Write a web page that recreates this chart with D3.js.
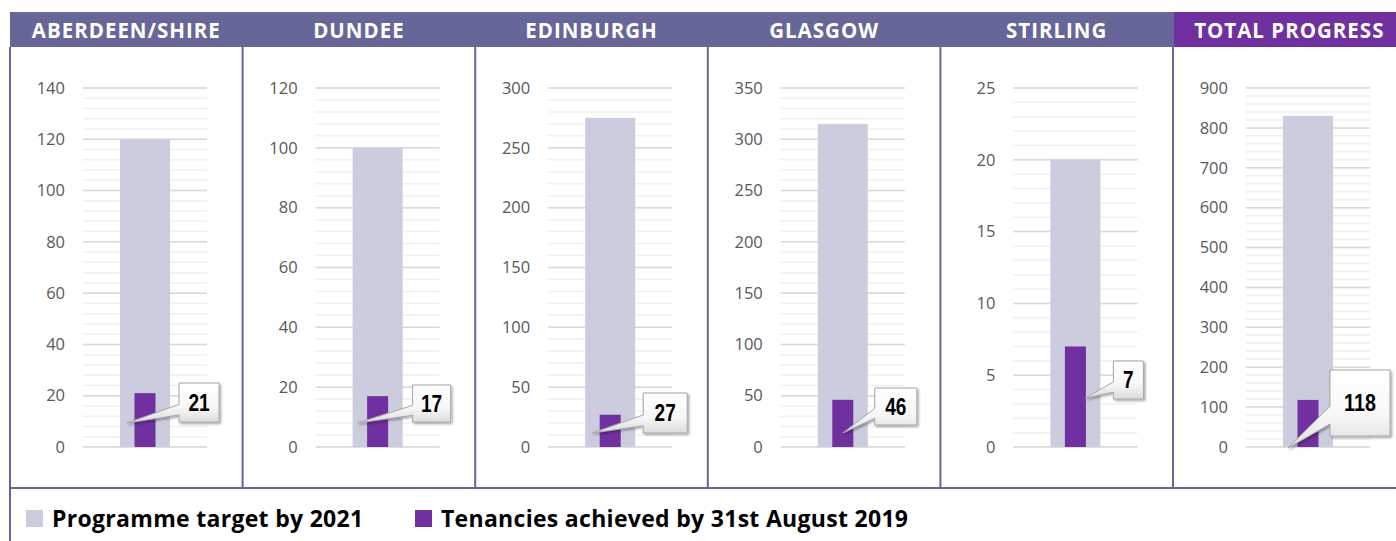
<!DOCTYPE html>
<html>
<head>
<meta charset="utf-8">
<script src="https://cdnjs.cloudflare.com/ajax/libs/d3/7.8.5/d3.min.js"></script>
<style>
  body { margin: 0; background: #fff; }
  svg { display: block; }
</style>
</head>
<body>
<div id="vis-container"></div>
<script>
const width = 1396,
      height = 541,
      margin = {
          top: 88,      // y of the axis max
          bottom: 94,   // 541 - 447, y of the zero line
          left: 10,
          right: 0,
      };

// ******* Data *******
var regions = ["ABERDEEN/SHIRE", "DUNDEE", "EDINBURGH", "GLASGOW", "STIRLING", "TOTAL PROGRESS"];
var targets = [120, 100, 275, 315, 20, 830];      // Programme target by 2021
var achieved = [21, 17, 27, 46, 7, 118];          // Tenancies achieved by 31st August 2019
var axisMax = [140, 120, 300, 350, 25, 900];
var axisStep = [20, 20, 50, 50, 5, 100];
var legendLabels = ["Programme target by 2021", "Tenancies achieved by 31st August 2019"];

// callout placement (offsets from bar centre, boxes drawn like the excel ones)
var calloutLayout = [
    {dx: 34, top: 383, w: 40, h: 39, tipDx: -18, tipY: 423},
    {dx: 35, top: 385, w: 38, h: 37, tipDx: -20, tipY: 423},
    {dx: 33, top: 393, w: 44, h: 40, tipDx: -18, tipY: 433},
    {dx: 32, top: 388, w: 42, h: 37, tipDx: 0,   tipY: 433},
    {dx: 38, top: 361, w: 30, h: 38, tipDx: 10,  tipY: 398},
    {dx: 22, top: 370, w: 60, h: 66, tipDx: -20, tipY: 448}
];

const frameColor = "#666699",
      totalColor = "#7030a0",
      targetColor = "#ccccdf",
      achievedColor = "#7030a0";
const panelW = 232.6;
const headerTop = 12, headerBottom = 47, frameBottom = 488;
const uiFont = "'Open Sans', Lato, sans-serif";

var svg = d3.select("#vis-container").append("svg")
    .attr("width", width)
    .attr("height", height)
    .style("font-family", uiFont);

var defs = svg.append("defs");
var grad = defs.append("linearGradient").attr("id", "callGrad")
    .attr("x1", 0).attr("y1", 0).attr("x2", 0).attr("y2", 1);
grad.append("stop").attr("offset", "0%").attr("stop-color", "#ffffff");
grad.append("stop").attr("offset", "60%").attr("stop-color", "#f7f7f7");
grad.append("stop").attr("offset", "100%").attr("stop-color", "#dcdcdc");
var shadow = defs.append("filter").attr("id", "shadow")
    .attr("x", "-20%").attr("y", "-20%").attr("width", "150%").attr("height", "150%");
shadow.append("feDropShadow").attr("dx", 1.5).attr("dy", 1.5).attr("stdDeviation", 1)
    .attr("flood-color", "#000").attr("flood-opacity", 0.35);

// ******* Scales *******
var panelX = d3.scaleBand().domain(regions)
    .range([margin.left, margin.left + panelW * regions.length]).padding(0);

// one category per panel, inner plot area is panel+73 .. panel+197
var barX = d3.scaleBand().domain(["bar"]).range([73, 197]).padding(0.425);

function yScaleFor(i) {
    return d3.scaleLinear().domain([0, axisMax[i]]).range([height - margin.bottom, margin.top]);
}

// ******* Header band *******
svg.append("rect")
    .attr("x", margin.left).attr("y", headerTop)
    .attr("width", width - margin.left).attr("height", headerBottom - headerTop)
    .attr("fill", frameColor);
svg.append("rect")
    .attr("x", panelX("TOTAL PROGRESS") + 1).attr("y", headerTop)
    .attr("width", width - panelX("TOTAL PROGRESS")).attr("height", headerBottom - headerTop)
    .attr("fill", totalColor);

svg.selectAll("text.header")
    .data(regions)
    .enter()
    .append("text")
    .attr("class", "header")
    .attr("x", function(d) {return panelX(d) + panelW / 2;})
    .attr("y", 37.5)
    .attr("text-anchor", "middle")
    .attr("fill", "#fff")
    .attr("font-weight", "bold")
    .attr("font-size", 20.5)
    .attr("letter-spacing", 1)
    .text(function(d) {return d;});

// ******* Panels *******
regions.forEach(function(region, i) {
    var y = yScaleFor(i);
    var g = svg.append("g").attr("transform", `translate(${panelX(region)} 0)`);

    // minor gridlines (5 per major step)
    var minor = d3.range(0, axisMax[i] + 1e-9, axisStep[i] / 5);
    g.selectAll("line.minor")
        .data(minor)
        .enter()
        .append("line")
        .attr("x1", barX.range()[0]).attr("x2", barX.range()[1])
        .attr("y1", function(d) {return y(d);})
        .attr("y2", function(d) {return y(d);})
        .attr("stroke", "#f0f0f0")
        .attr("stroke-width", 1.5);

    var major = d3.range(0, axisMax[i] + 1e-9, axisStep[i]);
    g.selectAll("line.major")
        .data(major)
        .enter()
        .append("line")
        .attr("x1", barX.range()[0]).attr("x2", barX.range()[1])
        .attr("y1", function(d) {return y(d);})
        .attr("y2", function(d) {return y(d);})
        .attr("stroke", "#d9d9d9")
        .attr("stroke-width", 1.5);

    // y axis labels
    var axis = g.append("g")
        .attr("transform", "translate(55 0)")
        .call(d3.axisLeft(y).tickValues(major).tickSize(0).tickPadding(0));
    axis.select(".domain").remove();
    axis.selectAll("text")
        .attr("fill", "#595959")
        .attr("font-size", 16.5)
        .attr("font-family", uiFont);

    // bars
    var bx = barX("bar"), bw = barX.bandwidth();
    var cx = bx + bw / 2;
    g.append("rect")
        .attr("x", bx).attr("width", bw)
        .attr("y", y(targets[i])).attr("height", y(0) - y(targets[i]))
        .attr("fill", targetColor);
    var aw = bw * 0.42;
    g.append("rect")
        .attr("x", cx - aw / 2).attr("width", aw)
        .attr("y", y(achieved[i])).attr("height", y(0) - y(achieved[i]))
        .attr("fill", achievedColor);

    // callout
    var c = calloutLayout[i];
    var L = cx + c.dx, R = L + c.w, T = c.top, B = c.top + c.h;
    var tipX = cx + c.tipDx;
    var p = d3.path();
    p.moveTo(L, T);
    p.lineTo(R, T);
    p.lineTo(R, B);
    p.lineTo(L, B);
    p.lineTo(L, T + c.h * 0.82);
    p.lineTo(tipX, c.tipY);
    p.lineTo(L, T + c.h * 0.55);
    p.closePath();
    g.append("path")
        .attr("d", p.toString())
        .attr("fill", "url(#callGrad)")
        .attr("stroke", "#a6a6a6")
        .attr("stroke-width", 1)
        .attr("filter", "url(#shadow)");
    var label = String(achieved[i]);
    g.append("text")
        .attr("x", L + c.w / 2)
        .attr("y", T + c.h / 2 + 8)
        .attr("text-anchor", "middle")
        .attr("font-family", "'Liberation Sans Narrow', 'Arial Narrow', 'Liberation Sans', Arial, sans-serif")
        .attr("font-weight", "bold")
        .attr("font-size", 23)
        .attr("textLength", label.length * 10.6)
        .attr("lengthAdjust", "spacingAndGlyphs")
        .attr("fill", "#000")
        .text(label);
});

// ******* Frame *******
svg.selectAll("line.divider")
    .data(regions)
    .enter()
    .append("line")
    .attr("x1", function(d) {return panelX(d);})
    .attr("x2", function(d) {return panelX(d);})
    .attr("y1", headerBottom)
    .attr("y2", function(d, i) {return i == 0 ? height : frameBottom;})
    .attr("stroke", frameColor)
    .attr("stroke-width", 2);
svg.append("line")
    .attr("x1", margin.left).attr("x2", width)
    .attr("y1", frameBottom).attr("y2", frameBottom)
    .attr("stroke", frameColor)
    .attr("stroke-width", 2);

// ******* Legend *******
var legendX = [26, 415];
var legend = svg.selectAll("g.legend")
    .data(legendLabels)
    .enter()
    .append("g")
    .attr("class", "legend")
    .attr("transform", function(d, i) {return `translate(${legendX[i]} 510)`;});
legend.append("rect")
    .attr("width", 17).attr("height", 17)
    .attr("fill", function(d, i) {return i == 0 ? targetColor : achievedColor;});
legend.append("text")
    .attr("x", 26)
    .attr("y", 17)
    .attr("font-size", 23)
    .attr("letter-spacing", 0.3)
    .attr("font-weight", "bold")
    .attr("fill", "#000")
    .text(function(d) {return d;});
</script>
</body>
</html>
